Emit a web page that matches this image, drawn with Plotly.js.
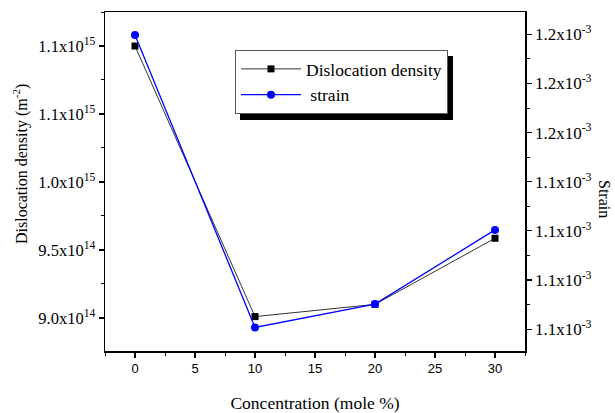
<!DOCTYPE html>
<html>
<head>
<meta charset="utf-8">
<script src="https://cdn.plot.ly/plotly-3.0.1.min.js"></script>
<style>html,body{margin:0;padding:0;background:#fff;}#chart{width:615px;height:413px;}</style>
</head>
<body>
<div id="chart"></div>
<script>
const concentration = [0, 10, 20, 30];
const dislocationDensity = [1.1e15, 9.01e14, 9.10e14, 9.586e14];
const strain = [1.1997e-3, 1.0807e-3, 1.0902e-3, 1.1204e-3];

const leftTickVals = [9.0e14, 9.5e14, 1.0e15, 1.05e15, 1.1e15];
const leftTickText = ["9.0x10<sup>14</sup>", "9.5x10<sup>14</sup>", "1.0x10<sup>15</sup>", "1.1x10<sup>15</sup>", "1.1x10<sup>15</sup>"];
const rightTickVals = [1.08e-3, 1.10e-3, 1.12e-3, 1.14e-3, 1.16e-3, 1.18e-3, 1.20e-3];
const rightTickText = ["1.1x10<sup>-3</sup>", "1.1x10<sup>-3</sup>", "1.1x10<sup>-3</sup>", "1.1x10<sup>-3</sup>", "1.2x10<sup>-3</sup>", "1.2x10<sup>-3</sup>", "1.2x10<sup>-3</sup>"];

const serif = "Liberation Serif, Times New Roman, serif";
const sans = "Liberation Sans, Arial, sans-serif";

const traces = [
  {x: concentration, y: dislocationDensity, name: "Dislocation density", type: "scatter", mode: "lines+markers",
   line: {color: "#333333", width: 1}, marker: {symbol: "square", size: 7, color: "#000000"}},
  {x: concentration, y: strain, name: " strain", type: "scatter", mode: "lines+markers", yaxis: "y2",
   line: {color: "#0000ff", width: 1.3}, marker: {symbol: "circle", size: 8, color: "#0000ff"}}
];

const layout = {
  width: 615, height: 413,
  margin: {l: 105, r: 90, t: 12, b: 62},
  paper_bgcolor: "#fff", plot_bgcolor: "#fff",
  showlegend: true,
  legend: {x: 0.3095, y: (351 - 50) / 339, xanchor: "left", yanchor: "top", bgcolor: "#fff",
           bordercolor: "#555", borderwidth: 1, font: {family: serif, size: 17.5, color: "#000"},
           tracegroupgap: 0, itemwidth: 60},
  xaxis: {range: [-2.5, 32.5], tickmode: "linear", tick0: 0, dtick: 5, ticks: "outside", ticklen: 5,
          tickwidth: 1.2, tickcolor: "#000", showline: true, linecolor: "#000", linewidth: 1.5,
          mirror: true, showgrid: false, zeroline: false,
          tickfont: {family: sans, size: 13, color: "#000"},
          minor: {tick0: 0, dtick: 2.5, ticks: "outside", ticklen: 3, tickcolor: "#000", tickwidth: 1, showgrid: false},
          title: {text: "Concentration (mole %)", font: {family: serif, size: 17.5, color: "#000"}, standoff: 24}},
  yaxis: {range: [8.757e14, 1.125e15], tickmode: "array", tickvals: leftTickVals, ticktext: leftTickText,
          ticks: "outside", ticklen: 5, tickwidth: 1.2, tickcolor: "#000", showline: true, linecolor: "#000",
          linewidth: 1.5, showgrid: false, zeroline: false,
          tickfont: {family: serif, size: 16.5, color: "#000"},
          minor: {tick0: 9.0e14, dtick: 2.5e13, ticks: "outside", ticklen: 3, tickcolor: "#000", tickwidth: 1, showgrid: false}},
  yaxis2: {overlaying: "y", side: "right", range: [1.0711e-3, 1.2091e-3], tickmode: "array",
           tickvals: rightTickVals, ticktext: rightTickText,
           ticks: "outside", ticklen: 5, tickwidth: 1.2, tickcolor: "#000", showline: true, linecolor: "#000",
           linewidth: 1.5, showgrid: false, zeroline: false,
           tickfont: {family: serif, size: 17, color: "#000"},
           minor: {tick0: 1.08e-3, dtick: 1e-5, ticks: "outside", ticklen: 3, tickcolor: "#000", tickwidth: 1, showgrid: false}},
  shapes: [
    {type: "rect", xref: "paper", yref: "paper", x0: (240 - 105) / 420, x1: (453 - 105) / 420,
     y0: (351 - 120) / 339, y1: (351 - 56) / 339, fillcolor: "#000", line: {width: 0}, layer: "above"}
  ],
  annotations: [
    {text: "Dislocation density (m<sup>-2</sup>)", xref: "paper", yref: "paper", x: (20 - 105) / 420, y: (351 - 164) / 339,
     showarrow: false, textangle: -90, font: {family: serif, size: 16, color: "#000"}, xanchor: "center", yanchor: "middle"},
    {text: "Strain", xref: "paper", yref: "paper", x: (605 - 105) / 420, y: (351 - 199) / 339, showarrow: false, textangle: 90,
     font: {family: serif, size: 16, color: "#000"}, xanchor: "center", yanchor: "middle"}
  ]
};

Plotly.newPlot("chart", traces, layout, {displayModeBar: false, staticPlot: true});
</script>
</body>
</html>
